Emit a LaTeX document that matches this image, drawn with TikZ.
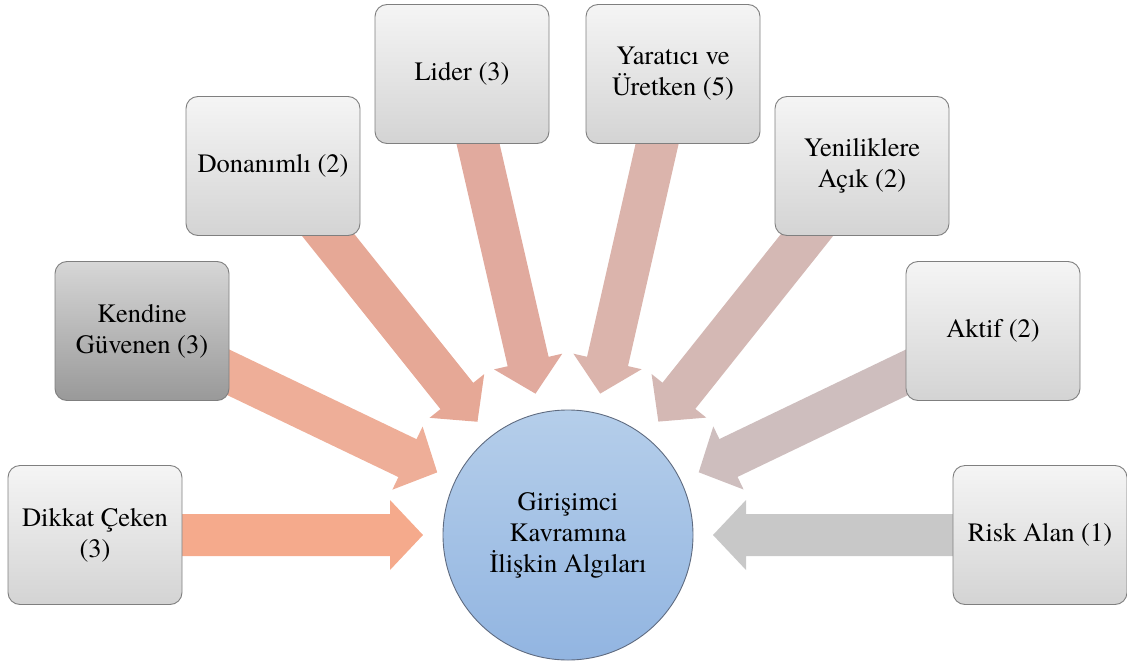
\documentclass[tikz,border=0pt]{standalone}
\usepackage{fontspec}
\setmainfont{texgyretermes-regular.otf}
\usetikzlibrary{calc}
\pgfdeclarelayer{bg}
\pgfsetlayers{bg,main}
\definecolor{ca}{HTML}{F5AA8C}
\definecolor{cb}{HTML}{EEAE98}
\definecolor{cc}{HTML}{E6A896}
\definecolor{cd}{HTML}{E1AA9E}
\definecolor{ce}{HTML}{DBB4AC}
\definecolor{cf}{HTML}{D4B8B4}
\definecolor{cg}{HTML}{CEBEBE}
\definecolor{ch}{HTML}{C8C8C8}
\definecolor{boxline}{HTML}{7F7F7F}
\definecolor{circtop}{HTML}{B5CEEA}
\definecolor{circbot}{HTML}{92B5E1}
\definecolor{circline}{HTML}{5F6B80}
\newcommand\radarrow[2]{%
  \coordinate (P) at ($(c.center)!145pt!(#1.center)$);
  \coordinate (T) at (#1.center);
  \coordinate (H) at ($(P)!33pt!(T)$);
  \begin{pgfonlayer}{bg}
  \fill[#2] ($(T)!21pt!90:(P)$) -- ($(H)!21pt!90:(P)$) -- ($(H)!35pt!90:(P)$) -- (P)
    -- ($(H)!35pt!-90:(P)$) -- ($(H)!21pt!-90:(P)$) -- ($(T)!21pt!-90:(P)$) -- cycle;
  \end{pgfonlayer}}
\begin{document}
\begin{tikzpicture}[x=1pt,y=-1pt,
  box/.style={draw=boxline, line width=0.9pt, rounded corners=12pt,
    minimum width=174pt, minimum height=139pt, inner sep=0pt,
    top color=white!96!black, bottom color=white!83!black,
    align=center, font=\fontsize{26.5}{31}\selectfont},
  darkbox/.style={box, shading angle=30, top color=white!84!black, bottom color=white!60!black},
  hub/.style={circle, draw=circline, line width=0.9pt, minimum size=250pt,
    inner sep=0pt, top color=circtop, bottom color=circbot,
    align=center, font=\fontsize{26.5}{31}\selectfont}]
\useasboundingbox (0,0) rectangle (1127,661);
\node[hub] (c) at (568,535) {Girişimci\\Kavramına\\İlişkin Algıları};
\node[box] (b1) at (95,535) {Dikkat Çeken\\(3)};
\node[darkbox] (b2) at (142,331) {Kendine\\Güvenen (3)};
\node[box] (b3) at (273,166) {Donanımlı (2)};
\node[box] (b4) at (462,74) {Lider (3)};
\node[box] (b5) at (673,74) {Yaratıcı ve\\Üretken (5)};
\node[box] (b6) at (862,166) {Yeniliklere\\Açık (2)};
\node[box] (b7) at (993,331) {Aktif (2)};
\node[box] (b8) at (1040,535) {Risk Alan (1)};
\radarrow{b1}{ca}
\radarrow{b2}{cb}
\radarrow{b3}{cc}
\radarrow{b4}{cd}
\radarrow{b5}{ce}
\radarrow{b6}{cf}
\radarrow{b7}{cg}
\radarrow{b8}{ch}
\end{tikzpicture}
\end{document}
